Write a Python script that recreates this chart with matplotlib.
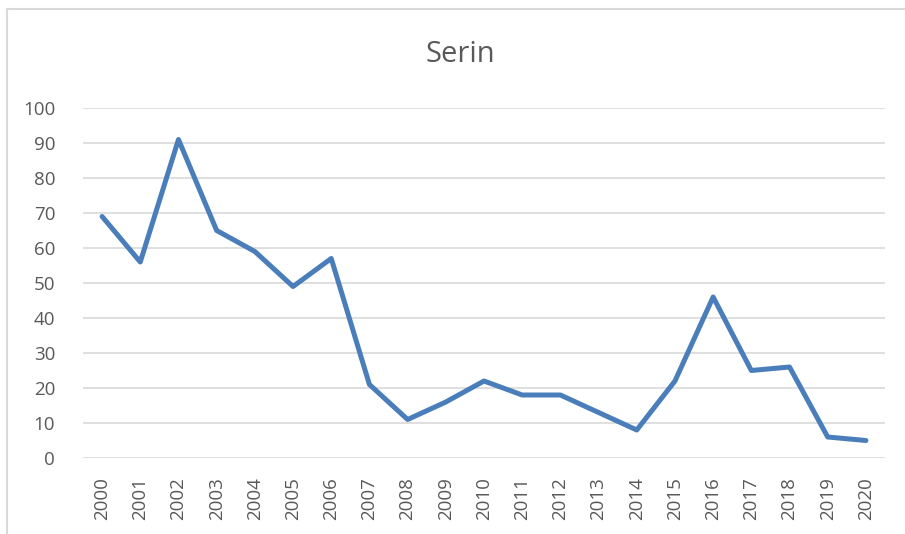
import matplotlib.pyplot as plt

years = [str(y) for y in range(2000, 2021)]
values = [69, 56, 91, 65, 59, 49, 57, 21, 11, 16, 22, 18, 18, 13, 8, 22, 46, 25, 26, 6, 5]
yticks = [0, 10, 20, 30, 40, 50, 60, 70, 80, 90, 100]

plt.rcParams['font.family'] = ['Open Sans', 'DejaVu Sans']

fig = plt.figure(figsize=(9.05, 5.34), dpi=100)
ax = fig.add_axes([83/905, 1-458/534, (885-83)/905, (458-108)/534])

# chart frame (left and top edges only visible)
fig.add_artist(plt.Line2D([7/905, 7/905], [0, 1-9/534], color='#d9d9d9', lw=1.5))
fig.add_artist(plt.Line2D([7/905, 1], [1-9/534, 1-9/534], color='#d9d9d9', lw=1.5))

x = list(range(len(years)))
ax.plot(x, values, color='#4a7ebb', lw=3.6, solid_joinstyle='round', solid_capstyle='round')

ax.set_xlim(-0.5, len(years) - 0.5)
ax.set_ylim(0, 100)
ax.set_yticks(yticks)
ax.set_xticks(x)
ax.set_xticklabels(years, rotation=90)
ax.grid(axis='y', color='#d9d9d9', lw=1.2)
ax.set_axisbelow(True)
for s in ax.spines.values():
    s.set_visible(False)
ax.tick_params(length=0, colors='#595959', labelsize=13.5)
ax.tick_params(axis='y', pad=20)
ax.tick_params(axis='x', pad=14)

fig.text(460/905, 1-54/534, 'Serin', ha='center', va='center', fontsize=21, color='#595959')

fig.savefig('out.png', dpi=100)
